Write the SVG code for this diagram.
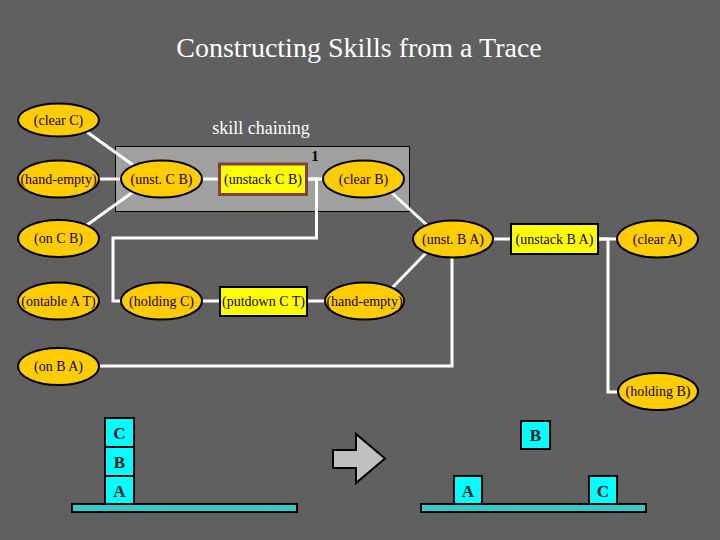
<svg xmlns="http://www.w3.org/2000/svg" width="720" height="540" viewBox="0 0 720 540">
<defs>
<style>
.t{font-family:"Liberation Serif","Times New Roman",serif;fill:#200000;font-size:14px;text-anchor:middle}
.e{fill:#ffcc00;stroke:#000;stroke-width:2}
.r{fill:#ffff00;stroke:#000;stroke-width:2}
.c{fill:none;stroke:#fff;stroke-width:3}
.blk{fill:#00ffff;stroke:#000;stroke-width:2}
.tbl{fill:#33cccc;stroke:#000;stroke-width:2}
.bl{font-family:"Liberation Serif","Times New Roman",serif;font-weight:bold;font-size:17px;fill:#002020;text-anchor:middle}
</style>
</defs>
<rect width="720" height="540" fill="#606060"/>
<text x="359" y="57" font-family="Liberation Serif, serif" font-size="28" fill="#fff" text-anchor="middle">Constructing Skills from a Trace</text>
<text x="261" y="134" font-family="Liberation Serif, serif" font-size="18" fill="#fff" text-anchor="middle">skill chaining</text>
<rect x="115.5" y="146.5" width="294" height="65" fill="#a0a0a0" stroke="#000" stroke-width="1"/>
<text x="315" y="161" font-family="Liberation Serif, serif" font-size="15" font-weight="bold" fill="#000" text-anchor="middle">1</text>
<g id="connectors">
<line class="c" x1="87" y1="132" x2="133" y2="165"/>
<line class="c" x1="99" y1="179" x2="121" y2="179"/>
<line class="c" x1="87" y1="225" x2="133" y2="192"/>
<line class="c" x1="202" y1="179" x2="219" y2="179"/>
<line class="c" x1="307" y1="179" x2="323" y2="179"/>
<polyline class="c" points="307,179 316.5,179 316.5,238 113,238 113,301 121,301"/>
<line class="c" x1="202" y1="301" x2="220" y2="301"/>
<line class="c" x1="307" y1="301" x2="325" y2="301"/>
<line class="c" x1="392" y1="288" x2="427" y2="252"/>
<line class="c" x1="392" y1="193" x2="428" y2="226"/>
<line class="c" x1="493" y1="239" x2="511" y2="239"/>
<line class="c" x1="598" y1="239" x2="617" y2="239"/>
<polyline class="c" points="598,239 608,239 608,392 618,392"/>
<polyline class="c" points="99,366 452,366 452,258"/>
</g>
<g id="clearC"><ellipse class="e" cx="58.5" cy="120" rx="40.5" ry="16.5"/><text class="t" x="58.5" y="124.5">(clear C)</text></g>
<g id="handEmpty1"><ellipse class="e" cx="58.5" cy="179" rx="40.5" ry="18.5"/><text class="t" x="58.5" y="183.5">(hand-empty)</text></g>
<g id="unstCB"><ellipse class="e" cx="161.5" cy="179" rx="40.5" ry="18.5"/><text class="t" x="161.5" y="183.5">(unst. C B)</text></g>
<g id="unstackCB"><rect x="219.5" y="164" width="87" height="30.5" fill="#ffff00" stroke="#804040" stroke-width="3"/><text class="t" x="263" y="183.5">(unstack C B)</text></g>
<g id="clearB"><ellipse class="e" cx="363.5" cy="179" rx="40.5" ry="18.5"/><text class="t" x="363.5" y="183.5">(clear B)</text></g>
<g id="onCB"><ellipse class="e" cx="58.5" cy="238.5" rx="40.5" ry="18.5"/><text class="t" x="58.5" y="243">(on C B)</text></g>
<g id="unstBA"><ellipse class="e" cx="453" cy="239" rx="40" ry="18.5"/><text class="t" x="453" y="243.5">(unst. B A)</text></g>
<g id="unstackBA"><rect class="r" x="511" y="224" width="87" height="30"/><text class="t" x="554.5" y="243.5">(unstack B A)</text></g>
<g id="clearA"><ellipse class="e" cx="657.5" cy="239" rx="40.5" ry="18.5"/><text class="t" x="657.5" y="243.5">(clear A)</text></g>
<g id="ontableAT"><ellipse class="e" cx="58.5" cy="301" rx="40.5" ry="18.5"/><text class="t" x="58.5" y="305.5">(ontable A  T)</text></g>
<g id="holdingC"><ellipse class="e" cx="161.5" cy="301" rx="40.5" ry="18.5"/><text class="t" x="161.5" y="305.5">(holding C)</text></g>
<g id="putdownCT"><rect class="r" x="220" y="287" width="87" height="29"/><text class="t" x="263.5" y="305.5">(putdown C  T)</text></g>
<g id="handEmpty2"><ellipse class="e" cx="364.5" cy="301" rx="39.5" ry="18.5"/><text class="t" x="364.5" y="305.5">(hand-empty)</text></g>
<g id="onBA"><ellipse class="e" cx="58.5" cy="366.5" rx="40.5" ry="18.5"/><text class="t" x="58.5" y="371">(on B  A)</text></g>
<g id="holdingB"><ellipse class="e" cx="658" cy="391.5" rx="40" ry="18.5"/><text class="t" x="658" y="396">(holding B)</text></g>
<g id="scene">
<rect class="tbl" x="72" y="504" width="225" height="8"/>
<rect class="blk" x="105" y="418" width="29" height="29"/><text class="bl" x="119.5" y="439">C</text>
<rect class="blk" x="105" y="447" width="29" height="29"/><text class="bl" x="119.5" y="468">B</text>
<rect class="blk" x="105" y="476" width="29" height="28"/><text class="bl" x="119.5" y="497">A</text>
<polygon points="333,450 356,450 356,434 385,458.5 356,483 356,468 333,468" fill="#c0c0c0" stroke="#000" stroke-width="2"/>
<rect class="tbl" x="421" y="504" width="225" height="8"/>
<rect class="blk" x="521" y="421" width="29" height="28"/><text class="bl" x="535.5" y="441">B</text>
<rect class="blk" x="454" y="476" width="28" height="28"/><text class="bl" x="468" y="497">A</text>
<rect class="blk" x="589" y="476" width="28" height="28"/><text class="bl" x="603" y="497">C</text>
</g>
</svg>
